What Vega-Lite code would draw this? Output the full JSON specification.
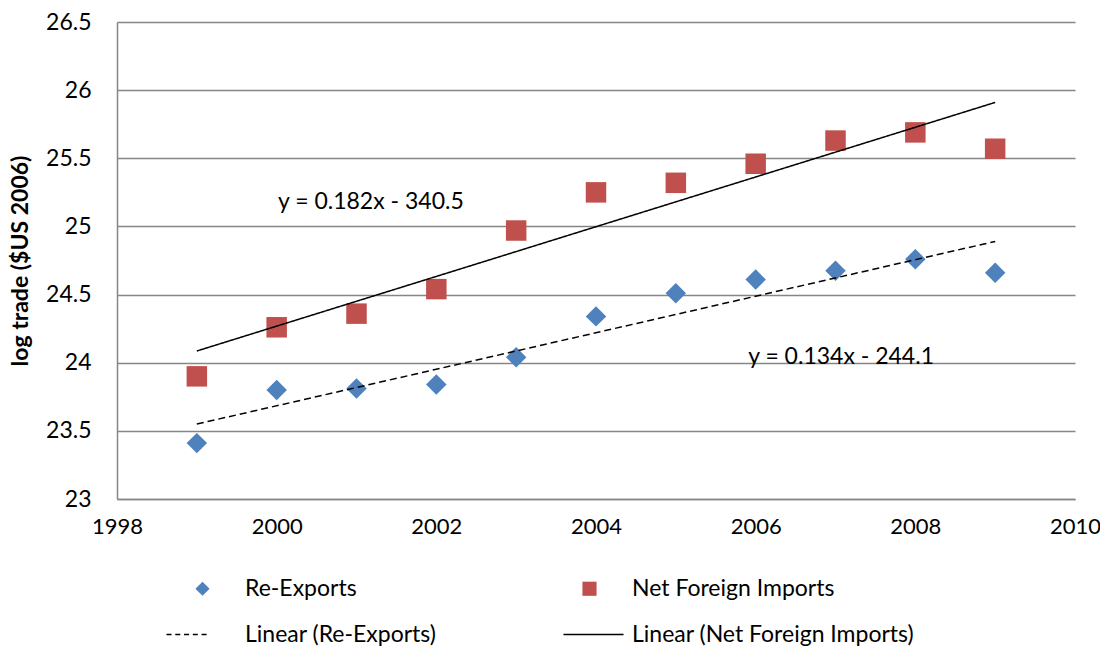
{
  "$schema": "https://vega.github.io/schema/vega-lite/v6.json",
  "width": 958,
  "height": 477,
  "autosize": {"type": "none"},
  "padding": {"left": 117, "top": 22, "right": 25, "bottom": 153},
  "background": "white",
  "config": {"view": {"stroke": null}, "font": "Lato"},
  "datasets": {
    "points": [
      {"year": 1999, "value": 23.41, "series": "Re-Exports"},
      {"year": 2000, "value": 23.80, "series": "Re-Exports"},
      {"year": 2001, "value": 23.81, "series": "Re-Exports"},
      {"year": 2002, "value": 23.84, "series": "Re-Exports"},
      {"year": 2003, "value": 24.04, "series": "Re-Exports"},
      {"year": 2004, "value": 24.34, "series": "Re-Exports"},
      {"year": 2005, "value": 24.51, "series": "Re-Exports"},
      {"year": 2006, "value": 24.61, "series": "Re-Exports"},
      {"year": 2007, "value": 24.675, "series": "Re-Exports"},
      {"year": 2008, "value": 24.76, "series": "Re-Exports"},
      {"year": 2009, "value": 24.66, "series": "Re-Exports"},
      {"year": 1999, "value": 23.90, "series": "Net Foreign Imports"},
      {"year": 2000, "value": 24.26, "series": "Net Foreign Imports"},
      {"year": 2001, "value": 24.36, "series": "Net Foreign Imports"},
      {"year": 2002, "value": 24.54, "series": "Net Foreign Imports"},
      {"year": 2003, "value": 24.97, "series": "Net Foreign Imports"},
      {"year": 2004, "value": 25.25, "series": "Net Foreign Imports"},
      {"year": 2005, "value": 25.32, "series": "Net Foreign Imports"},
      {"year": 2006, "value": 25.46, "series": "Net Foreign Imports"},
      {"year": 2007, "value": 25.63, "series": "Net Foreign Imports"},
      {"year": 2008, "value": 25.69, "series": "Net Foreign Imports"},
      {"year": 2009, "value": 25.57, "series": "Net Foreign Imports"}
    ],
    "trends": [
      {"year": 1999, "value": 23.55, "series": "Linear (Re-Exports)"},
      {"year": 2009, "value": 24.89, "series": "Linear (Re-Exports)"},
      {"year": 1999, "value": 24.086, "series": "Linear (Net Foreign Imports)"},
      {"year": 2009, "value": 25.91, "series": "Linear (Net Foreign Imports)"}
    ],
    "labels": [
      {"year": 2001.18, "value": 25.18, "label": "y = 0.182x - 340.5"},
      {"year": 2007.07, "value": 24.04, "label": "y = 0.134x - 244.1"}
    ]
  },
  "layer": [
    {
      "data": {"name": "points"},
      "mark": {"type": "point", "filled": true, "opacity": 1, "size": 420},
      "encoding": {
        "x": {
          "field": "year", "type": "quantitative",
          "scale": {"domain": [1998, 2010], "nice": false, "zero": false},
          "axis": {
            "title": null, "values": [1998, 2000, 2002, 2004, 2006, 2008, 2010], "format": "d",
            "grid": false, "ticks": false, "domainColor": "#868686", "domainWidth": 1.5,
            "labelFontSize": 22, "labelColor": "black", "labelFont": "Lato", "labelPadding": 17,
            "labelFlush": false, "labelOverlap": false
          }
        },
        "y": {
          "field": "value", "type": "quantitative",
          "scale": {"domain": [23, 26.5], "nice": false, "zero": false},
          "axis": {
            "title": "log trade ($US 2006)", "titleFontSize": 23, "titleFontWeight": "bold",
            "titleColor": "black", "titleFont": "Lato", "titlePadding": 13,
            "values": [23, 23.5, 24, 24.5, 25, 25.5, 26, 26.5], "format": "~g",
            "grid": true, "gridColor": "#868686", "gridWidth": 1.5, "ticks": false,
            "domainColor": "#868686", "domainWidth": 1.5,
            "labelFontSize": 23, "labelColor": "black", "labelFont": "Lato", "labelPadding": 26,
            "labelFlush": false, "labelOverlap": false
          }
        },
        "color": {
          "field": "series", "type": "nominal",
          "scale": {
            "domain": ["Re-Exports", "Net Foreign Imports", "Linear (Re-Exports)", "Linear (Net Foreign Imports)"],
            "range": ["#4F81BD", "#C0504D", "black", "black"]
          },
          "legend": {
            "orient": "none", "legendX": 74, "legendY": 555, "columns": 2, "direction": "horizontal", "title": null,
            "symbolSize": 200, "labelFontSize": 23, "labelFont": "Lato",
            "labelColor": "black", "labelOffset": 31, "columnPadding": 126, "rowPadding": 22,
            "labelLimit": 400
          }
        },
        "shape": {
          "field": "series", "type": "nominal",
          "scale": {
            "domain": ["Re-Exports", "Net Foreign Imports", "Linear (Re-Exports)", "Linear (Net Foreign Imports)"],
            "range": [
              "diamond",
              "square",
              "M-5.09,-0.11H-4.38V0.11H-5.09ZM-3.85,-0.11H-3.14V0.11H-3.85ZM-2.61,-0.11H-1.9V0.11H-2.61ZM-1.37,-0.11H-0.66V0.11H-1.37ZM-0.13,-0.11H0.58V0.11H-0.13Z",
              "M-3.68,-0.11H4.81V0.11H-3.68Z"
            ]
          }
        }
      }
    },
    {
      "data": {"name": "trends"},
      "mark": {"type": "line", "color": "black", "strokeWidth": 1.5},
      "encoding": {
        "x": {"field": "year", "type": "quantitative"},
        "y": {"field": "value", "type": "quantitative"},
        "detail": {"field": "series", "type": "nominal"},
        "strokeDash": {
          "field": "series", "type": "nominal",
          "scale": {"domain": ["Linear (Re-Exports)", "Linear (Net Foreign Imports)"], "range": [[7, 4], [1, 0]]},
          "legend": null
        }
      }
    },
    {
      "data": {"name": "labels"},
      "mark": {"type": "text", "fontSize": 23, "font": "Lato", "color": "black"},
      "encoding": {
        "x": {"field": "year", "type": "quantitative"},
        "y": {"field": "value", "type": "quantitative"},
        "text": {"field": "label", "type": "nominal"}
      }
    }
  ]
}
